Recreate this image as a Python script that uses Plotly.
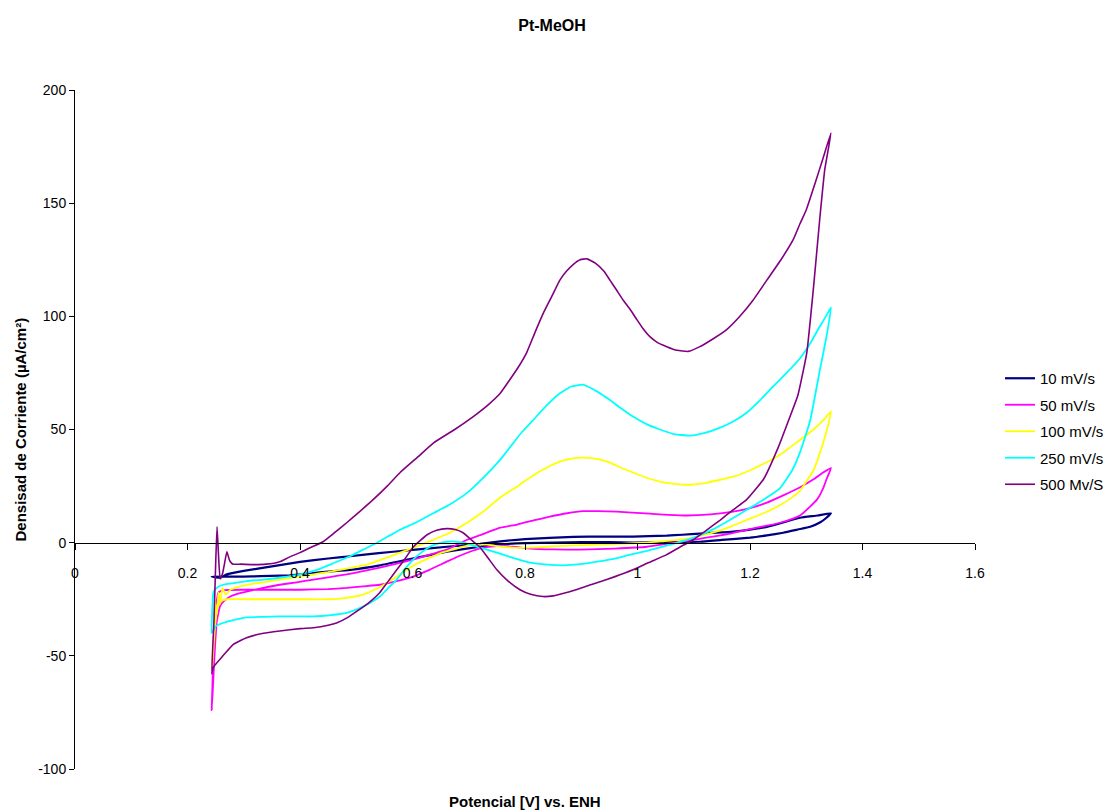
import plotly.graph_objects as go

# ---------------- data ----------------
series_names = ["10 mV/s", "50 mV/s", "100 mV/s", "250 mV/s", "500 Mv/S"]
series_colors = ["#000080", "#FF00FF", "#FFFF00", "#00FFFF", "#800080"]

x_10 = [0.243, 0.27, 0.30, 0.33, 0.364, 0.382, 0.42, 0.45, 0.489, 0.542, 0.60, 0.661, 0.72, 0.756, 0.80, 0.85,
        0.90, 0.95, 0.992, 1.05, 1.111, 1.15, 1.20, 1.23, 1.259, 1.285, 1.307, 1.325, 1.336, 1.344,
        1.32, 1.289, 1.26, 1.23, 1.20, 1.17, 1.14, 1.111, 1.08, 1.052, 1.02, 0.992, 0.94, 0.886, 0.80,
        0.756, 0.72, 0.661, 0.60, 0.54, 0.489, 0.45, 0.40, 0.35, 0.30, 0.27, 0.258, 0.25, 0.243]
y_10 = [-15, -15, -15, -14.8, -14.6, -14.4, -13.5, -12.8, -12, -10, -7, -4, -1.8, -0.8, -0.2, 0,
        0.2, 0.2, 0, 0.2, 0.4, 1.2, 2.2, 3.2, 4.4, 5.8, 7, 9, 11, 13,
        12, 11, 9, 7, 5.8, 4.9, 4.4, 4, 3.5, 3.1, 2.9, 2.7, 2.7, 2.6, 1.6,
        0.6, -0.5, -1.8, -3.2, -4.6, -6, -7, -8.5, -10.5, -12.5, -14, -15.5, -15.3, -15]

x_50 = [0.243, 0.246, 0.25, 0.255, 0.265, 0.30, 0.35, 0.40, 0.45, 0.483, 0.512, 0.542, 0.572, 0.601, 0.63,
        0.661, 0.682, 0.702, 0.72, 0.75, 0.779, 0.809, 0.85, 0.898, 0.96, 1.017, 1.045, 1.076, 1.105, 1.134,
        1.165, 1.194, 1.23, 1.253, 1.275, 1.289, 1.305, 1.319, 1.33, 1.336, 1.344,
        1.33, 1.313, 1.289, 1.26, 1.23, 1.20, 1.17, 1.13, 1.088, 1.055, 1.022, 0.99, 0.963, 0.93, 0.903,
        0.875, 0.844, 0.815, 0.786, 0.756, 0.72, 0.697, 0.661, 0.631, 0.601, 0.572, 0.542, 0.512, 0.483,
        0.453, 0.424, 0.394, 0.364, 0.335, 0.305, 0.29, 0.276, 0.266, 0.258, 0.252, 0.248, 0.245, 0.243]
y_50 = [-74, -50, -30, -22, -21, -20.8, -20.8, -20.8, -20.5, -20, -19.3, -18.6, -17, -15, -12,
        -8.4, -6, -4, -2.5, -1.5, -1.8, -2.6, -3, -3.1, -2.6, -1.8, -0.8, 0.4, 1.5, 2.7,
        4, 5.7, 7.5, 8.8, 10.5, 12, 15.5, 19, 24, 28, 33,
        31, 28, 24.5, 21, 17.7, 15.3, 13.7, 12.5, 12, 12.3, 12.8, 13.3, 13.7, 13.9, 13.9,
        13, 11.5, 9.8, 8, 6.6, 3.3, 1.3, -3.1, -5.3, -7.5, -9.3, -11, -12.6, -14,
        -15.2, -16.3, -17.5, -18.6, -20, -21.6, -22.5, -23.8, -25.5, -28, -35, -50, -65, -74]

x_100 = [0.244, 0.248, 0.252, 0.258, 0.27, 0.30, 0.35, 0.40, 0.45, 0.48, 0.512, 0.535, 0.555, 0.572, 0.59,
         0.61, 0.631, 0.65, 0.672, 0.69, 0.708, 0.72, 0.75, 0.779, 0.81, 0.839, 0.88, 0.928, 0.97, 1.017,
         1.045, 1.076, 1.105, 1.134, 1.165, 1.194, 1.224, 1.253, 1.275, 1.289, 1.30, 1.313, 1.322, 1.33,
         1.338, 1.344,
         1.33, 1.313, 1.30, 1.289, 1.268, 1.248, 1.225, 1.20, 1.175, 1.147, 1.12, 1.093, 1.065, 1.04,
         1.015, 0.992, 0.97, 0.951, 0.927, 0.903, 0.88, 0.857, 0.83, 0.803, 0.78, 0.756, 0.727, 0.697,
         0.667, 0.637, 0.607, 0.578, 0.548, 0.519, 0.483, 0.45, 0.424, 0.395, 0.364, 0.335, 0.305, 0.29,
         0.276, 0.268, 0.262, 0.258, 0.255, 0.252, 0.249, 0.247, 0.245, 0.244]
y_100 = [-55, -40, -30, -26, -25, -25, -25, -25, -25, -24.5, -23, -20.5, -17.7, -15, -12,
         -9, -6.6, -4.6, -3.1, -1.8, -0.9, -0.5, -1.5, -2.2, -2.2, -1.8, -1.3, -0.9, -0.5, 0,
         0.6, 1.3, 2.6, 4.4, 7, 10, 13, 16.5, 20, 23, 27, 32, 38, 44,
         51, 58,
         54, 50, 47.5, 45.5, 41.5, 38, 35, 32, 29.5, 27.8, 26.3, 25.6, 26, 27,
         28.8, 31, 33.2, 35.4, 37, 37.6, 37, 35.4, 32, 27.8, 23.8, 20, 14, 8.8,
         4.5, 1.3, -1.7, -4.4, -7.2, -9.7, -11.5, -13, -14, -15.2, -16.3, -17.5, -18.6, -19.5,
         -20.8, -23, -20, -27, -22, -32, -26, -40, -50, -55]

x_250 = [0.243, 0.25, 0.263, 0.285, 0.305, 0.335, 0.364, 0.40, 0.424, 0.455, 0.483, 0.51, 0.525, 0.542,
         0.557, 0.572, 0.587, 0.601, 0.616, 0.631, 0.646, 0.661, 0.675, 0.69, 0.705, 0.72, 0.75, 0.78,
         0.809, 0.84, 0.868, 0.898, 0.928, 0.96, 0.987, 1.015, 1.045, 1.075, 1.105, 1.135, 1.164, 1.194,
         1.224, 1.253, 1.275, 1.289, 1.307, 1.324, 1.336, 1.344,
         1.335, 1.324, 1.307, 1.289, 1.265, 1.241, 1.218, 1.194, 1.17, 1.147, 1.12, 1.093, 1.065, 1.04,
         1.015, 0.992, 0.97, 0.951, 0.93, 0.903, 0.882, 0.862, 0.838, 0.814, 0.795, 0.779, 0.756, 0.727,
         0.697, 0.667, 0.637, 0.607, 0.578, 0.557, 0.537, 0.513, 0.489, 0.46, 0.43, 0.40, 0.364, 0.335,
         0.305, 0.28, 0.263, 0.252, 0.246, 0.244, 0.243]
y_250 = [-40, -37, -35.5, -34, -33, -32.8, -32.6, -32.6, -32.6, -32, -31, -28.5, -26.5, -23.8,
         -20, -16.3, -11.5, -7.5, -4.3, -1.8, -0.3, 0.4, 0.5, 0, -1, -2.2, -4.4, -6.8,
         -8.8, -9.7, -10, -9.5, -8.4, -7, -5.3, -3.7, -1.8, 0.3, 2.7, 6, 10, 14.5,
         19, 24, 32, 40, 54, 76, 91, 104,
         100, 95.5, 88, 81.5, 75, 69, 63, 57.4, 53.5, 50.8, 48.5, 47.3, 48, 50,
         52.5, 55.7, 59.5, 63, 66.5, 69.8, 69, 66, 60.5, 54, 49, 44, 36.7, 29,
         22, 17, 13, 9, 5.7, 2.8, 0, -3, -6, -9, -12, -14, -15.5, -16.3,
         -17, -18, -18.6, -20, -22, -30, -40]

x_500 = [0.243, 0.246, 0.263, 0.281, 0.305, 0.335, 0.364, 0.40, 0.424, 0.45, 0.465, 0.485, 0.501, 0.52,
         0.542, 0.557, 0.572, 0.587, 0.601, 0.614, 0.626, 0.643, 0.661, 0.676, 0.69, 0.708, 0.72, 0.735,
         0.75, 0.77, 0.791, 0.81, 0.832, 0.85, 0.874, 0.90, 0.928, 0.96, 0.992, 1.02, 1.052, 1.075,
         1.099, 1.12, 1.147, 1.17, 1.194, 1.224, 1.25, 1.27, 1.285, 1.301, 1.313, 1.324, 1.333, 1.344,
         1.33, 1.316, 1.30, 1.289, 1.277, 1.255, 1.23, 1.205, 1.182, 1.158, 1.134, 1.11, 1.09, 1.07,
         1.052, 1.035, 1.022, 1.01, 0.999, 0.987, 0.975, 0.963, 0.951, 0.94, 0.925, 0.91, 0.898, 0.886,
         0.874, 0.862, 0.848, 0.833, 0.818, 0.803, 0.788, 0.773, 0.756, 0.735, 0.708, 0.675, 0.637, 0.61,
         0.578, 0.555, 0.53, 0.505, 0.483, 0.462, 0.441, 0.42, 0.40, 0.38, 0.364, 0.34, 0.317, 0.295,
         0.281, 0.275, 0.27, 0.266, 0.262, 0.258, 0.255, 0.2525, 0.25, 0.247, 0.243]
y_500 = [-58, -55, -50, -45, -42, -40, -39, -38, -37.6, -36.5, -35.5, -33, -30.3, -27,
         -22, -17, -12, -7, -2, 1, 3.5, 5.5, 6.2, 5.8, 4.4, 0.5, -2, -7,
         -12, -17, -20.8, -22.8, -23.8, -23.5, -22, -20, -17.7, -15, -12, -8.8, -5.3, -2,
         1.3, 5, 10, 14.5, 19, 28, 42, 55, 65, 84, 113, 143, 165, 181,
         170, 159, 147, 141, 134, 125, 116, 107, 100, 94, 90, 86.5, 84.5, 85,
         86.6, 88.5, 91, 94.5, 98.5, 103, 107, 111.5, 116, 120, 123.5, 125.4, 125, 123,
         120, 116, 109, 101.6, 93, 84, 77.5, 72, 66, 61, 55.7, 50, 44, 38,
         31, 25, 19, 13.5, 8.8, 4.5, 0.4, -2, -4.4, -6.5, -8.4, -9.5, -9.7, -9.5,
         -9.5, -8, -4, -9, -14, -16, -5, 7, -10, -35, -58]

x_series = [x_10, x_50, x_100, x_250, x_500]
y_series = [y_10, y_50, y_100, y_250, y_500]
line_widths = [2.2, 1.8, 1.8, 1.8, 1.6]

x_tickvals = [0, 0.2, 0.4, 0.6, 0.8, 1, 1.2, 1.4, 1.6]
x_ticktext = ["0", "0.2", "0.4", "0.6", "0.8", "1", "1.2", "1.4", "1.6"]
y_tickvals = [-100, -50, 0, 50, 100, 150, 200]
y_ticktext = ["-100", "-50", "0", "50", "100", "150", "200"]

# ---------------- figure ----------------
FONT = "Liberation Sans, Arial, sans-serif"
fig = go.Figure()
for i, name in enumerate(series_names):
    fig.add_trace(go.Scatter(
        x=x_series[i], y=y_series[i], mode="lines", name=name,
        legendgroup=name,
        line=dict(color=series_colors[i], width=line_widths[i], shape="spline", smoothing=0.4),
    ))

fig.update_layout(
    width=1104, height=811,
    margin=dict(l=75, r=129, t=90, b=42, autoexpand=False),
    paper_bgcolor="white", plot_bgcolor="white",
    font=dict(family=FONT, size=14, color="black"),
    showlegend=True,
    title=dict(text="<b>Pt-MeOH</b>", x=0.5, xref="container", xanchor="center",
               y=1 - 25 / 811, yref="container", yanchor="middle",
               font=dict(family=FONT, size=16, color="black")),
    legend=dict(x=(1000 - 75) / 900, xanchor="left", y=(769 - 362) / 679, yanchor="top",
                font=dict(family=FONT, size=15, color="black"),
                tracegroupgap=4, traceorder="grouped",
                bgcolor="rgba(0,0,0,0)", itemwidth=30),
    xaxis=dict(range=[0, 1.6], tickvals=x_tickvals, ticktext=x_ticktext,
               anchor="free", position=1 / 3,
               showline=True, linecolor="black", linewidth=1,
               ticks="outside", ticklen=6, tickcolor="black", ticklabelstandoff=12,
               showgrid=False, zeroline=False,
               tickfont=dict(family=FONT, size=14, color="black")),
    yaxis=dict(range=[-100, 200], tickvals=y_tickvals, ticktext=y_ticktext,
               showline=True, linecolor="black", linewidth=1,
               ticks="outside", ticklen=5, tickcolor="black",
               showgrid=False, zeroline=False,
               tickfont=dict(family=FONT, size=14, color="black")),
    annotations=[
        dict(text="<b>Potencial [V] vs. ENH</b>", xref="paper", yref="paper",
             x=0.5, y=(769 - 801) / 679, xanchor="center", yanchor="middle",
             showarrow=False, font=dict(family=FONT, size=15, color="black")),
        dict(text="<b>Densisad de Corriente (µA/cm²)</b>", xref="paper", yref="paper",
             x=(20 - 75) / 900, y=0.5, xanchor="center", yanchor="middle", textangle=-90,
             showarrow=False, font=dict(family=FONT, size=15, color="black")),
    ],
)

fig.write_html("out.html")
